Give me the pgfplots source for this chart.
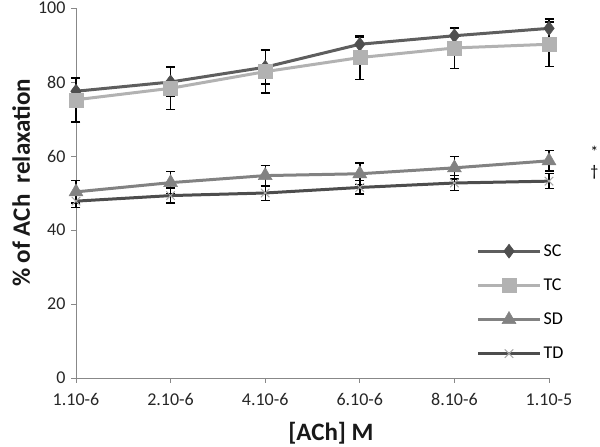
\documentclass[border=0pt]{standalone}
\usepackage{pgfplots}
\pgfplotsset{compat=1.18}
\usepackage{fontspec}
\setmainfont{Carlito}
\definecolor{cSC}{HTML}{5E5E5E}
\definecolor{cSCm}{HTML}{4F4F4F}
\definecolor{cTC}{HTML}{B2B2B2}
\definecolor{cSD}{HTML}{828282}
\definecolor{cTD}{HTML}{4D4D4D}
\definecolor{cTDm}{HTML}{A8A8A8}
\definecolor{axgray}{HTML}{888888}
\begin{document}
\begin{tikzpicture}[x=1pt,y=1pt]
\path[use as bounding box] (0,0) rectangle (600,447);
\begin{axis}[
  at={(76pt,69pt)}, anchor=south west,
  scale only axis, width=473pt, height=370pt,
  xmin=0, xmax=5, ymin=0, ymax=100,
  clip=false,
  axis lines*=left,
  axis line style={axgray, line width=0.8pt},
  every tick/.style={axgray, line width=0.8pt},
  tick align=outside, major tick length=5pt,
  xtick={0,1,2,3,4,5},
  xticklabels={1.10-6,2.10-6,4.10-6,6.10-6,8.10-6,1.10-5},
  ytick={0,20,40,60,80,100},
  /pgf/number format/assume math mode=true,
  tick label style={font=\fontsize{18}{20}\selectfont, text=black!85},
  xticklabel style={yshift=-7pt},
  yticklabel style={xshift=-2pt},
  xlabel={[ACh] M},
  ylabel={\%\ of ACh\ \ relaxation},
  label style={font=\bfseries\fontsize{25}{28}\selectfont, text=black!90},
  xlabel style={at={(axis description cs:0.539,-0.149)}, anchor=center},
  ylabel style={at={(axis description cs:-0.116,0.527)}, anchor=center, rotate=0},
  legend style={at={(axis description cs:0.84,0.372)}, anchor=north west,
    draw=none, fill=none, font=\fontsize{18}{20}\selectfont,
    row sep=17pt, /tikz/every even column/.append style={column sep=4pt}},
  legend cell align=left,
  legend image code/.code={
    \draw[#1, mark repeat=2, mark phase=2] plot coordinates {(0pt,0pt) (31pt,0pt) (62pt,0pt)};
  },
  error bars/y dir=both, error bars/y explicit,
  error bars/error bar style={black, line width=1.4pt},
  error bars/error mark options={rotate=90, black, line width=1.4pt, mark size=4.5pt},
]
\addplot[cSC, line width=3pt, mark=diamond*, mark size=7pt, mark options={fill=cSCm, draw=cSCm, line width=0.5pt}]
  table[x=x, y=y, y error=e] {
x y e
0 77.5 3.5
1 80.0 4.0
2 84.0 4.5
3 90.2 2.0
4 92.5 2.0
5 94.5 2.5
};
\addlegendentry{SC}
\addplot[cTC, line width=3pt, mark=square*, mark size=7pt, mark options={fill=cTC, draw=cTC, line width=0.5pt}]
  table[x=x, y=y, y error=e] {
x y e
0 75.2 6.0
1 78.3 5.8
2 82.8 5.8
3 86.6 6.0
4 89.2 5.5
5 90.2 6.0
};
\addlegendentry{TC}
\addplot[cSD, line width=3pt, mark=triangle*, mark size=8pt, mark options={fill=cSD, draw=cSD, line width=0.5pt}]
  table[x=x, y=y, y error=e] {
x y e
0 50.3 3.0
1 52.8 3.0
2 54.7 2.8
3 55.2 2.9
4 56.8 3.0
5 58.7 2.8
};
\addlegendentry{SD}
\addplot[cTD, line width=3pt, mark=x, mark size=6pt, mark options={draw=cTDm, line width=1pt}]
  table[x=x, y=y, y error=e] {
x y e
0 47.8 1.8
1 49.3 2.0
2 50.0 2.0
3 51.5 1.8
4 52.7 2.0
5 53.2 2.0
};
\addlegendentry{TD}
\node[font=\fontsize{16}{18}\selectfont, anchor=center] at (axis cs:5.48,61.2) {*};
\node[font=\fontsize{16}{18}\selectfont, anchor=center] at (axis cs:5.48,55.5) {\textdagger};
\end{axis}
\end{tikzpicture}
\end{document}
